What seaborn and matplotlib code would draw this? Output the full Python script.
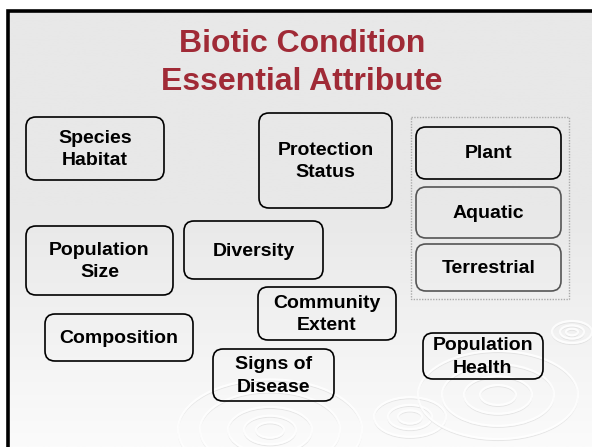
import numpy as np
import seaborn as sns
import matplotlib.pyplot as plt
from matplotlib.patches import FancyBboxPatch, Rectangle, Ellipse

sns.set_theme(style="white")
plt.rcParams['font.family'] = ['Liberation Sans', 'DejaVu Sans']

# slide content
title_lines = ['Biotic Condition', 'Essential Attribute']
labels = ['Species\nHabitat', 'Protection\nStatus', 'Plant', 'Aquatic', 'Terrestrial',
          'Population\nSize', 'Diversity', 'Community\nExtent', 'Composition',
          'Signs of\nDisease', 'Population\nHealth']

# box layout in slide pixels: x0, y0, x1, y1
boxes = [(26, 117, 164, 180), (259, 113, 392, 208), (416, 127, 561, 179),
         (416, 187, 561, 238), (416, 244, 561, 291), (26, 226, 173, 295),
         (184, 221, 323, 279), (258, 287, 396, 340), (45, 314, 193, 361),
         (213, 349, 334, 401), (423, 333, 543, 379)]
edge_cols = ['black', 'black', 'black', '#555555', '#555555', 'black',
             'black', 'black', 'black', 'black', 'black']

fig = plt.figure(figsize=(5.92, 4.47), dpi=100)
ax = fig.add_axes([0, 0, 1, 1])
ax.set_xlim(0, 592)
ax.set_ylim(447, 0)
ax.axis('off')

# background gradient of the slide
grad = np.linspace(0, 1, 200)[:, None]
grad = np.clip((grad - 0.45) / 0.55, 0, 1)
ax.imshow(grad, extent=(7, 592, 447, 10), cmap=sns.blend_palette(['#e8e8e8', '#fbfbfb'], as_cmap=True),
          aspect='auto', zorder=0)

# ripple decorations
ripples = [(270, 430, [14, 26, 42, 70, 92]), (410, 417, [12, 22, 36]),
           (498, 395, [18, 34, 56, 80]), (572, 332, [6, 12, 20])]
for cx, cy, radii in ripples:
    for r in radii:
        ax.add_patch(Ellipse((cx, cy + 1.5), 2 * r, 1.1 * r, fill=False, ec='#d8d8d8',
                             lw=0.8, alpha=0.6, zorder=1))
        ax.add_patch(Ellipse((cx, cy), 2 * r, 1.1 * r, fill=False, ec='white',
                             lw=1.6, alpha=0.85, zorder=1))

# slide frame (left and top edges)
ax.plot([7.5, 7.5, 592], [447, 10.5, 10.5], color='black', lw=2.6, zorder=5,
        solid_joinstyle='miter')

# title
for i, line in enumerate(title_lines):
    ax.text(302, 44 + i * 38, line, ha='center', va='center', fontsize=23,
            fontweight='bold', color='#a02a36', zorder=6)

# dotted group around plant / aquatic / terrestrial
ax.add_patch(Rectangle((411, 117), 158, 182, fill=False, ec='#aaaaaa', lw=1.0,
                       ls=(0, (1, 1)), zorder=2))

for (x0, y0, x1, y1), lab, ec in zip(boxes, labels, edge_cols):
    ax.add_patch(FancyBboxPatch((x0, y0), x1 - x0, y1 - y0,
                                boxstyle='round,pad=0,rounding_size=10',
                                fc='none', ec=ec, lw=1.2, zorder=3))
    ax.text((x0 + x1) / 2, (y0 + y1) / 2 + 1, lab, ha='center', va='center',
            fontsize=14, fontweight='bold', color='black', linespacing=1.45, zorder=4)

fig.savefig('out.png', dpi=100, facecolor='white')
